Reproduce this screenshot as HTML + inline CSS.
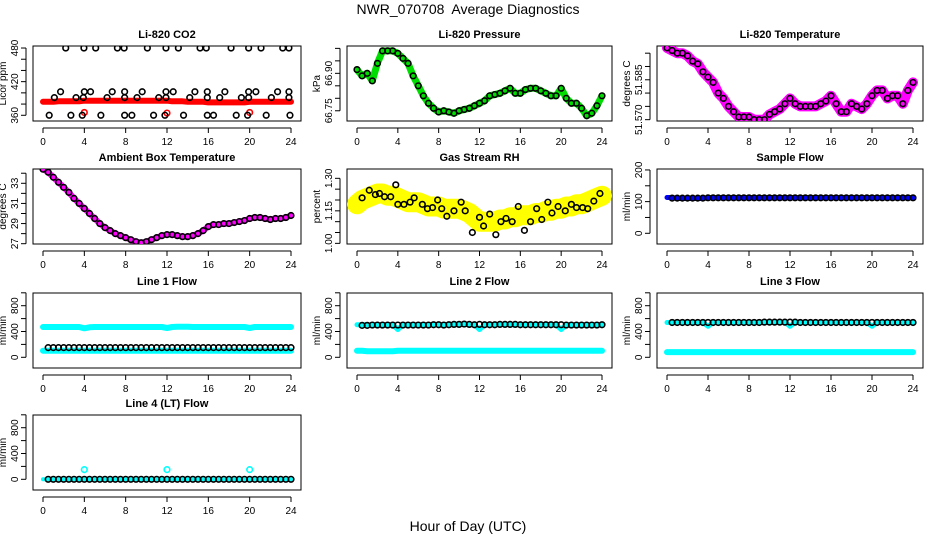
<!DOCTYPE html>
<html><head><meta charset="utf-8"><style>
html,body{margin:0;padding:0;background:#fff;}
svg{display:block;font-family:"Liberation Sans",sans-serif;}
</style></head><body>
<svg id="chart" width="936" height="540" viewBox="0 0 936 540" xmlns="http://www.w3.org/2000/svg">
<text x="468" y="14" text-anchor="middle" font-size="14">NWR_070708&#160; Average Diagnostics</text>
<text x="468" y="531" text-anchor="middle" font-size="14">Hour of Day (UTC)</text>
</svg>
<script>
const hours49 = [0,0.5,1,1.5,2,2.5,3,3.5,4,4.5,5,5.5,6,6.5,7,7.5,8,8.5,9,9.5,10,10.5,11,11.5,12,12.5,13,13.5,14,14.5,15,15.5,16,16.5,17,17.5,18,18.5,19,19.5,20,20.5,21,21.5,22,22.5,23,23.5,24];
const half48 = [0.5,1,1.5,2,2.5,3,3.5,4,4.5,5,5.5,6,6.5,7,7.5,8,8.5,9,9.5,10,10.5,11,11.5,12,12.5,13,13.5,14,14.5,15,15.5,16,16.5,17,17.5,18,18.5,19,19.5,20,20.5,21,21.5,22,22.5,23,23.5,24];
const xTickLabels = [0,4,8,12,16,20,24];

// CO2
const co2Band = [384,384,384,385,385,385,385,385,386,386,386,386,386,386,386,386,386,386,386,386,386,386,386,386,386,385,385,385,384,384,384,384,383,383,383,383,383,383,383,383,384,384,384,384,384,384,384,384,384];
const co2TopHours = [2.2,3.96,5.1,7.2,7.85,10.1,11.9,13.1,15.2,15.8,18.2,19.9,21.1,23.2,23.8];
const co2TopValue = 480;
const co2LowHours = [0.6,2.7,3.8,5.6,7.9,8.6,10.7,11.8,13.6,15.9,16.5,18.7,19.8,21.6,23.9];
const co2LowValue = 360;
const co2MidHours = [1.1,3.2,3.9,6.2,7.9,9.1,11.2,11.9,14.2,15.9,17.1,19.2,19.9,22.1,23.8];
const co2MidValue = 391.5;
const co2Mid2Hours = [1.7,4,4.6,6.7,7.9,9.6,11.9,12.6,14.7,15.9,17.6,19.9,20.6,22.7,23.8];
const co2Mid2Value = 402;
const co2RedOutHours = [4,12,20];
const co2RedOutValues = [365,364,365];

const pressure = [66.915,66.89,66.90,66.87,66.94,66.99,66.99,66.99,66.98,66.96,66.94,66.89,66.85,66.81,66.78,66.76,66.745,66.75,66.745,66.74,66.75,66.755,66.76,66.77,66.78,66.79,66.81,66.815,66.82,66.83,66.84,66.82,66.82,66.835,66.84,66.84,66.83,66.82,66.81,66.81,66.84,66.80,66.78,66.78,66.76,66.73,66.74,66.77,66.81];
const licorTemp = [51.597,51.596,51.595,51.595,51.594,51.592,51.591,51.588,51.586,51.584,51.580,51.578,51.575,51.573,51.571,51.571,51.571,51.570,51.570,51.570,51.572,51.573,51.574,51.576,51.578,51.576,51.575,51.575,51.575,51.575,51.576,51.577,51.579,51.576,51.573,51.573,51.576,51.575,51.574,51.576,51.579,51.581,51.581,51.578,51.579,51.579,51.576,51.581,51.584];
const ambientTemp = [34.4,34.1,33.6,33.1,32.6,32.1,31.5,31.0,30.5,30.0,29.5,29.0,28.6,28.3,28.0,27.8,27.6,27.4,27.2,27.1,27.2,27.4,27.6,27.8,27.9,27.9,27.8,27.7,27.7,27.8,28.0,28.3,28.7,28.9,28.9,29.0,29.0,29.1,29.2,29.3,29.5,29.6,29.6,29.5,29.4,29.5,29.5,29.6,29.8];

const rhBand = [1.18,1.20,1.21,1.22,1.23,1.23,1.22,1.22,1.21,1.20,1.19,1.19,1.19,1.18,1.17,1.17,1.17,1.16,1.16,1.16,1.16,1.15,1.14,1.12,1.10,1.10,1.10,1.10,1.11,1.11,1.12,1.12,1.13,1.13,1.13,1.14,1.14,1.15,1.15,1.16,1.16,1.17,1.17,1.18,1.18,1.19,1.20,1.21,1.22];
const rhHours = [0.5,1.2,1.8,2.2,2.7,3.3,3.8,4,4.6,5.2,5.6,6.4,6.9,7.4,7.9,8.3,8.8,9.5,10.2,10.6,11.3,12,12.4,13,13.6,14.1,14.6,15.2,15.8,16.4,17,17.6,18.1,18.7,19.1,19.7,20.4,21,21.5,22.1,22.6,23.2,23.8];
const rhMean = [1.21,1.245,1.225,1.23,1.215,1.215,1.27,1.18,1.18,1.19,1.21,1.18,1.16,1.165,1.20,1.16,1.125,1.15,1.19,1.15,1.05,1.12,1.08,1.135,1.04,1.10,1.115,1.10,1.17,1.06,1.10,1.16,1.11,1.19,1.14,1.17,1.15,1.18,1.165,1.165,1.16,1.195,1.23];

const sampleBlue = [113,113,110,110,110,110,110,110,112,112,112,112,112,112,112,112,112,112,112,112,112,112,112,112,112,112,112,112,112,112,112,112,112,112,112,112,112,112,112,112,112,112,112,112,112,112,112,112,112];
const sampleBlack = [111,111,111,111,111,111,111,112,112,112,112,112,112,112,112,112,112,112,112,112,112,112,112,112,112,112,112,112,112,112,112,112,112,112,112,112,112,112,112,112,112,112,112,112,112,112,112,112];

const line1CyanHigh = [470,470,470,470,470,470,470,470,450,465,470,470,470,470,470,470,470,470,470,470,470,470,470,470,455,470,475,475,475,470,470,470,470,470,470,470,470,470,470,470,455,470,470,470,470,470,470,470,470];
const line1CyanLow = [100,100,100,100,100,100,100,100,100,100,100,100,100,100,100,100,100,100,100,100,100,100,100,100,100,100,100,100,100,100,100,100,100,100,100,100,100,100,100,100,100,100,100,100,100,100,100,100,100];
const line1Black = [150,150,150,150,150,150,150,150,150,150,150,150,150,150,150,150,150,150,150,150,150,150,150,150,150,150,150,150,150,150,150,150,150,150,150,150,150,150,150,150,150,150,150,150,150,150,150,150];

const line2CyanHigh = [505,505,505,505,505,505,505,505,430,505,505,505,505,505,505,505,505,505,510,515,515,510,505,505,430,505,505,510,510,510,505,505,505,505,505,505,505,505,505,505,430,505,505,505,505,505,505,505,505];
const line2CyanLow = [100,100,95,95,95,95,95,95,100,100,100,100,100,100,100,100,100,100,100,100,100,100,100,100,100,100,100,100,100,100,100,100,100,100,100,100,100,100,100,100,100,100,100,100,100,100,100,100,100];
const line2Black = [495,495,500,500,500,500,500,500,500,500,500,500,500,500,505,505,500,505,510,510,515,510,505,510,505,505,505,510,510,510,510,505,505,505,505,505,505,505,505,505,500,500,500,500,500,500,500,505];

const line3CyanHigh = [540,540,540,540,540,540,540,540,480,540,540,540,540,540,540,540,540,540,540,545,545,545,545,545,480,540,540,540,540,540,540,540,540,540,540,540,540,540,540,540,480,540,540,540,540,540,540,540,540];
const line3CyanLow = [80,80,80,80,80,80,80,80,80,80,80,80,80,80,80,80,80,80,80,80,80,80,80,80,80,80,80,80,80,80,80,80,80,80,80,80,80,80,80,80,80,80,80,80,80,80,80,80,80];
const line3Black = [540,540,540,540,540,540,540,540,540,540,540,540,540,540,540,540,540,540,545,545,545,545,545,545,545,540,540,540,540,540,540,540,540,540,540,540,540,540,540,540,540,540,540,540,540,540,540,540];

const line4Cyan = [0,0,0,0,0,0,0,0,0,0,0,0,0,0,0,0,0,0,0,0,0,0,0,0,0,0,0,0,0,0,0,0,0,0,0,0,0,0,0,0,0,0,0,0,0,0,0,0,0];
const line4SpikeHours = [4,12,20];
const line4SpikeValues = [150,150,150];
const line4Black = [0,0,0,0,0,0,0,0,0,0,0,0,0,0,0,0,0,0,0,0,0,0,0,0,0,0,0,0,0,0,0,0,0,0,0,0,0,0,0,0,0,0,0,0,0,0,0,0];

const NS = "http://www.w3.org/2000/svg";
const svg = document.getElementById('chart');
const colLeft = [33,347,657], colRight = [301,612,923];
const rowTop = [46,169,293,415], boxH = 75;

function mk(tag, attrs, parent){
  const e = document.createElementNS(NS, tag);
  for (const k in attrs) e.setAttribute(k, attrs[k]);
  (parent||svg).appendChild(e);
  return e;
}

function makePanel(key, col, row, title, ylab, lo, hi, ticks, labels){
  const L = colLeft[col], R = colRight[col], T = rowTop[row], B = T + boxH;
  const g = mk('g', {});
  
  
  const xs = h => L + 10 + (R - L - 20) * h / 24;
  const ys = v => B - (v - lo) / (hi - lo) * (B - T);
  const box = mk('rect', {x:L, y:T, width:R-L, height:boxH, fill:'none', stroke:'#000', 'stroke-width':1}, g);
  
  
  const t = mk('text', {x:(L+R)/2, y:T-8, 'text-anchor':'middle', 'font-size':11, 'font-weight':'bold'}, g);
  t.textContent = title;
  
  
  const xa = mk('g', {}, g);
  
  
  mk('line', {x1:xs(0), x2:xs(24), y1:B+7, y2:B+7, stroke:'#000'}, xa);
  xTickLabels.forEach(h => {
    mk('line', {x1:xs(h), x2:xs(h), y1:B+7, y2:B+12, stroke:'#000'}, xa);
    const tl = mk('text', {x:xs(h), y:B+24, 'text-anchor':'middle', 'font-size':10}, xa);
    tl.textContent = h;
  });
  const ya = mk('g', {}, g);
  
  
  mk('line', {x1:L-7, x2:L-7, y1:ys(ticks[0]), y2:ys(ticks[ticks.length-1]), stroke:'#000'}, ya);
  ticks.forEach(v => mk('line', {x1:L-12, x2:L-7, y1:ys(v), y2:ys(v), stroke:'#000'}, ya));
  labels.forEach(lb => {
    const y = ys(parseFloat(lb));
    const tl = mk('text', {x:L-15, y:y, 'text-anchor':'middle', 'font-size':10, transform:`rotate(-90 ${L-15} ${y})`}, ya);
    tl.textContent = lb;
  });
  const yl = mk('text', {x:L-27, y:(T+B)/2, 'text-anchor':'middle', 'font-size':10, transform:`rotate(-90 ${L-27} ${(T+B)/2})`}, g);
  yl.textContent = ylab;
  
  
  const clip = mk('clipPath', {id:'clip-'+key}, g);
  mk('rect', {x:L, y:T, width:R-L, height:boxH}, clip);
  const data = mk('g', {'clip-path':`url(#clip-${key})`}, g);
  return {xs, ys, g:data};
}

function band(p, name, hrs, vals, color, w){
  const pts = hrs.map((h,i) => p.xs(h).toFixed(1) + ',' + p.ys(vals[i]).toFixed(1)).join(' ');
  const pl = mk('polyline', {points:pts, fill:'none', stroke:color, 'stroke-width':w, 'stroke-linejoin':'round', 'stroke-linecap':'round'}, p.g);
  
  
}
function circles(p, name, hrs, vals, color, r){
  const g = mk('g', {}, p.g);
  
  
  hrs.forEach((h,i) => {
    const v = Array.isArray(vals) ? vals[i] : vals;
    mk('circle', {cx:p.xs(h), cy:p.ys(v), r:r||2.8, fill:'none', stroke:color, 'stroke-width':1.6}, g);
  });
}

let p = makePanel('co2', 0, 0, 'Li-820 CO2', 'Licor ppm', 349.8, 483.6, [360,380,400,420,440,460,480], ['360','420','480']);
band(p, 'co2-band', hours49, co2Band, '#ff0000', 6);
circles(p, 'co2-red-outliers', co2RedOutHours, co2RedOutValues, '#ff0000');
circles(p, 'co2-mean-top', co2TopHours, co2TopValue, '#000');
circles(p, 'co2-mean-low', co2LowHours, co2LowValue, '#000');
circles(p, 'co2-mean-mid', co2MidHours, co2MidValue, '#000');
circles(p, 'co2-mean-mid2', co2Mid2Hours, co2Mid2Value, '#000');

p = makePanel('pressure', 1, 0, 'Li-820 Pressure', 'kPa', 66.709, 67.0095, [66.75,66.80,66.85,66.90,66.95,67.00], ['66.75','66.90']);
band(p, 'pressure-band', hours49, pressure, '#00dd00', 7);
circles(p, 'pressure-mean', hours49, pressure, '#000');

p = makePanel('licor-temp', 2, 0, 'Li-820 Temperature', 'degrees C', 51.5695, 51.5977, [51.570,51.575,51.580,51.585,51.590,51.595], ['51.570','51.585']);
band(p, 'licor-temp-band', hours49, licorTemp, '#ff00ff', 10);
circles(p, 'licor-temp-mean', hours49, licorTemp, '#000');

p = makePanel('ambient', 0, 1, 'Ambient Box Temperature', 'degrees C', 26.97, 34.42, [27,28,29,30,31,32,33,34], ['27','29','31','33']);
band(p, 'ambient-band', hours49, ambientTemp, '#ff00ff', 6);
circles(p, 'ambient-mean', hours49, ambientTemp, '#000');

p = makePanel('rh', 1, 1, 'Gas Stream RH', 'percent', 0.997, 1.343, [1.00,1.05,1.10,1.15,1.20,1.25,1.30], ['1.00','1.15','1.30']);
band(p, 'rh-band', hours49, rhBand, '#ffff00', 20);
circles(p, 'rh-mean', rhHours, rhMean, '#000');

p = makePanel('sample-flow', 2, 1, 'Sample Flow', 'ml/min', -33.8, 203, [0,50,100,150,200], ['0','100','200']);
band(p, 'sample-flow-band', hours49, sampleBlue, '#0000ff', 5);
circles(p, 'sample-flow-mean', half48, sampleBlack, '#000');

const flowTicks = [0,200,400,600,800,1000], flowLabels = ['0','400','800'];
p = makePanel('line1', 0, 2, 'Line 1 Flow', 'ml/min', -166, 997, flowTicks, flowLabels);
band(p, 'line1-cyan-high', hours49, line1CyanHigh, '#00ffff', 6);
band(p, 'line1-cyan-low', hours49, line1CyanLow, '#00ffff', 6);
circles(p, 'line1-mean', half48, line1Black, '#000');

p = makePanel('line2', 1, 2, 'Line 2 Flow', 'ml/min', -166, 997, flowTicks, flowLabels);
band(p, 'line2-cyan-high', hours49, line2CyanHigh, '#00ffff', 5);
band(p, 'line2-cyan-low', hours49, line2CyanLow, '#00ffff', 6);
circles(p, 'line2-mean', half48, line2Black, '#000');

p = makePanel('line3', 2, 2, 'Line 3 Flow', 'ml/min', -166, 997, flowTicks, flowLabels);
band(p, 'line3-cyan-high', hours49, line3CyanHigh, '#00ffff', 5);
band(p, 'line3-cyan-low', hours49, line3CyanLow, '#00ffff', 6);
circles(p, 'line3-mean', half48, line3Black, '#000');

p = makePanel('line4', 0, 3, 'Line 4 (LT) Flow', 'ml/min', -166, 997, flowTicks, flowLabels);
band(p, 'line4-cyan', hours49, line4Cyan, '#00ffff', 4);
circles(p, 'line4-spikes', line4SpikeHours, line4SpikeValues, '#00ffff');
circles(p, 'line4-mean', half48, line4Black, '#000');
</script>
</body></html>
